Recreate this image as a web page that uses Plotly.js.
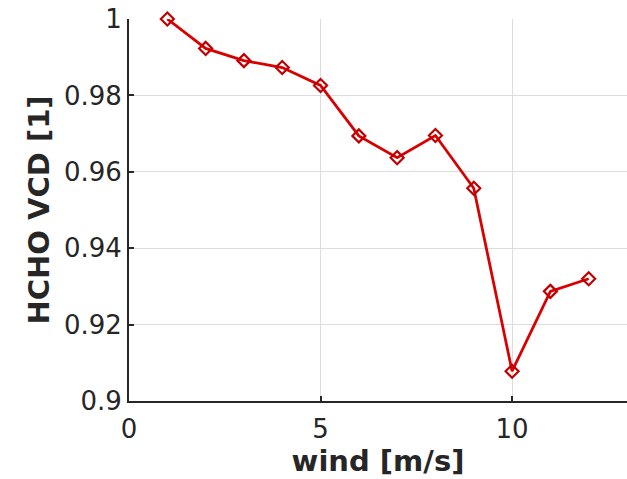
<!DOCTYPE html>
<html><head><meta charset="utf-8">
<script src="https://cdn.plot.ly/plotly-3.0.1.min.js"></script>
<style>html,body{margin:0;padding:0;background:#fff}#c{width:627px;height:479px}</style>
</head><body><div id="c"></div>
<script>
const wind = [1, 2, 3, 4, 5, 6, 7, 8, 9, 10, 11, 12];
const vcd = [1.0, 0.9923, 0.9891, 0.9873, 0.9826, 0.9694, 0.9637, 0.9695, 0.9557, 0.9078, 0.9287, 0.9320];
const xTicks = [0, 5, 10];
const yTicks = [0.9, 0.92, 0.94, 0.96, 0.98, 1];
const yTickText = ['0.9', '0.92', '0.94', '0.96', '0.98', '1'];

const fnt = {family: 'DejaVu Sans', size: 26, color: '#262626'};
const tfnt = {family: 'DejaVu Sans', size: 29, color: '#262626'};
Plotly.newPlot('c', [{
  x: wind, y: vcd, type: 'scatter', mode: 'lines+markers',
  line: {color: '#d90000', width: 2.8},
  marker: {symbol: 'diamond-open', size: 10, color: '#c00000', line: {width: 2.2, color: '#c00000'}},
  cliponaxis: false
}], {
  width: 627, height: 479,
  margin: {l: 129, r: 0, t: 19, b: 78},
  paper_bgcolor: '#fff', plot_bgcolor: '#fff',
  showlegend: false,
  xaxis: {range: [0, 13], tickvals: xTicks, ticks: 'inside', ticklen: 5, tickwidth: 1.5, tickcolor: '#262626',
    showline: true, linecolor: '#262626', linewidth: 2, showgrid: true, gridcolor: '#dcdcdc', gridwidth: 1,
    zeroline: false, tickfont: fnt, ticklabelstandoff: 4,
    title: {text: '<b>wind [m/s]</b>', font: tfnt, standoff: 2}},
  yaxis: {range: [0.9, 1], tickvals: yTicks, ticktext: yTickText, ticks: 'inside', ticklen: 5, tickwidth: 1.5, tickcolor: '#262626',
    showline: true, linecolor: '#262626', linewidth: 2, showgrid: true, gridcolor: '#dcdcdc', gridwidth: 1,
    zeroline: false, tickfont: fnt,
    title: {text: '<b>HCHO VCD [1]</b>', font: tfnt, standoff: 6}}
}, {displayModeBar: false});
</script></body></html>
